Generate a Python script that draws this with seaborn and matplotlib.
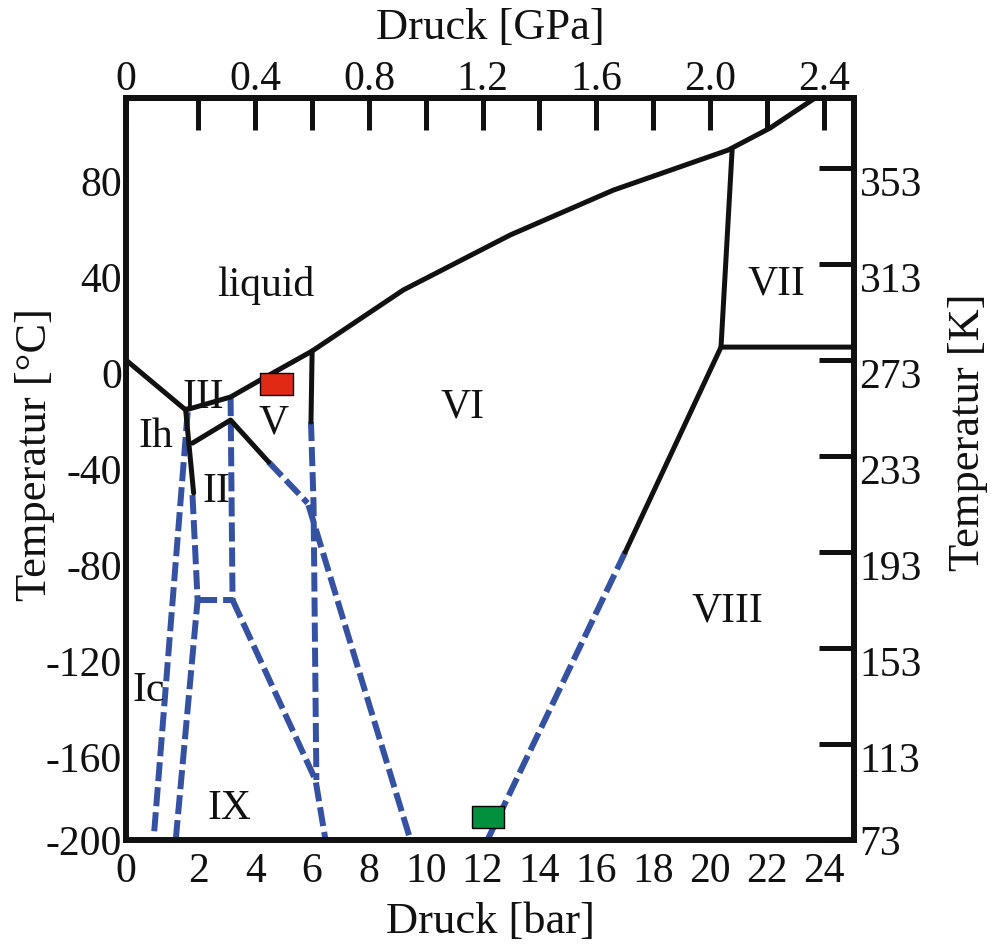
import numpy as np
import pandas as pd
import matplotlib.pyplot as plt
from matplotlib.transforms import ScaledTranslation
import seaborn as sns

sns.set_theme(style="white")
plt.rcParams['font.family'] = ['Liberation Serif', 'DejaVu Serif']
BLACK = '#111111'
BLUE = '#3551a2'
for key in ('text.color', 'axes.labelcolor', 'xtick.color', 'ytick.color', 'axes.edgecolor'):
    plt.rcParams[key] = BLACK

# pressure in kbar, temperature in degC
# left edge of the box is labelled 0 in the original drawing
P0 = -0.55

# solid boundaries
liquidus_p = [P0, 1.55, 3.13, 4.18, 6.0, 9.21, 12.97, 16.6, 20.64, 22.12, 23.7]
liquidus_T = [0, -20.8, -15.4, -8.3, 3.75, 29.2, 52.1, 70.8, 87.5, 96.7, 109.2]
ih_ii_p = [1.55, 1.83]
ih_ii_T = [-20.8, -55.4]
iii_ii_v_p = [1.79, 3.13, 4.47]
iii_ii_v_T = [-34.6, -25.0, -42.5]
v_vi_p = [6.0, 5.96]
v_vi_T = [3.75, -25.8]
vi_vii_p = [20.78, 20.39, 25.07]
vi_vii_T = [87.5, 5.4, 5.4]
vi_viii_p = [20.39, 17.02]
vi_viii_T = [5.4, -80.0]

# dashed (extrapolated) boundaries
ic_p = [1.62, 0.42]
ic_T = [-21.7, -200]
ix_left_p = [1.79, 1.97, 1.2]
ix_left_T = [-56.25, -100, -200]
ix_top_p = [1.97, 3.2]
ix_top_T = [-100, -100]
iii_v_p = [3.13, 3.2]
iii_v_T = [-15.4, -100]
ix_right_p = [3.2, 6.12, 6.47]
ix_right_T = [-100, -175, -200]
v_vi_low_p = [5.96, 6.05, 6.15]
v_vi_low_T = [-25.8, -60, -175]
ii_v_low_p = [4.47, 5.84]
ii_v_low_T = [-42.5, -59.6]
ii_vi_low_p = [5.87, 9.46]
ii_vi_low_T = [-60.4, -200]
vi_viii_low_p = [17.02, 12.17]
vi_viii_low_T = [-80, -200]

# phase names
phase_names = ['liquid', 'VI', 'VII', 'VIII', 'V', 'III', 'Ih', 'II', 'Ic', 'IX']
phase_p = [4.36, 11.29, 22.33, 20.6, 4.64, 2.18, 0.49, 2.64, 0.25, 3.09]
phase_T = [31.0, -19.6, 31.5, -104.5, -26.2, -15.8, -32.1, -55.0, -137.9, -187.0]

# the two marked states
mark_p = [4.75, 12.18]
mark_T = [-10.0, -190.4]
mark_kind = ['red', 'green']

solid = [(liquidus_p, liquidus_T), (ih_ii_p, ih_ii_T), (iii_ii_v_p, iii_ii_v_T),
         (v_vi_p, v_vi_T), (vi_vii_p, vi_vii_T), (vi_viii_p, vi_viii_T)]
dashed = [(ic_p, ic_T), (ix_left_p, ix_left_T), (ix_top_p, ix_top_T), (iii_v_p, iii_v_T),
          (ix_right_p, ix_right_T), (v_vi_low_p, v_vi_low_T), (ii_v_low_p, ii_v_low_T),
          (ii_vi_low_p, ii_vi_low_T), (vi_viii_low_p, vi_viii_low_T)]


def to_frame(segs):
    rows = []
    for k, (ps, ts) in enumerate(segs):
        for p, t in zip(ps, ts):
            rows.append((k, p, t))
    return pd.DataFrame(rows, columns=['seg', 'p', 'T'])


solid_df = to_frame(solid)
dashed_df = to_frame(dashed)

fig = plt.figure(figsize=(9.91, 9.51), dpi=100)
ax = fig.add_axes([126 / 991, 1 - 840 / 951, (854 - 126) / 991, (840 - 98) / 951])

sns.lineplot(data=dashed_df, x='p', y='T', units='seg', estimator=None, sort=False,
             color=BLUE, linewidth=4.3, linestyle=(0, (3.2, 1.0)), ax=ax, legend=False)
sns.lineplot(data=solid_df, x='p', y='T', units='seg', estimator=None, sort=False,
             color=BLACK, linewidth=3.6, ax=ax, legend=False)

rect = [(-1.45, -1), (1.45, -1), (1.45, 1), (-1.45, 1), (-1.45, -1)]
sns.scatterplot(x=mark_p, y=mark_T, hue=mark_kind,
                palette={'red': '#e02a16', 'green': '#00903e'},
                marker=rect, s=540, edgecolor='black', linewidth=1.0,
                legend=False, zorder=5, ax=ax)

for name, p, t in zip(phase_names, phase_p, phase_T):
    ax.text(p, t, name, ha='center', va='center', fontsize=30, color=BLACK)

ax.set_xlim(P0, 25.07)
ax.set_ylim(-200, 109.2)

xt = list(range(2, 25, 2))
ax.set_xticks([P0] + xt, labels=['0'] + [str(v) for v in xt])
yt = list(range(-200, 81, 40))
ax.set_yticks(yt, labels=[str(v) for v in yt])

for sp in ax.spines.values():
    sp.set_linewidth(4.3)
    sp.set_color(BLACK)

ax.tick_params(axis='x', direction='in', length=16.5, width=3.6, color=BLACK,
               labelsize=30, pad=9)
ax.tick_params(axis='y', direction='in', length=21.5, width=3.6, color=BLACK,
               labelsize=30, pad=3)

ax.set_xlabel('Druck [bar]', fontsize=32, va='center')
ax.xaxis.set_label_coords(0.5, (840 - 922) / 742)
ax.set_ylabel('Temperatur [°C]', fontsize=32, va='center')
ax.yaxis.set_label_coords((35 - 126) / 728, (840 - 455) / 742)

# top axis in GPa
top = ax.secondary_xaxis('top', functions=(lambda x: x / 10, lambda x: x * 10))
gpa = [v / 10 for v in xt]
gpa_lab = ['' if v % 4 else f'{v / 10:.1f}' for v in xt]
top.set_xticks([P0 / 10] + gpa, labels=['0'] + gpa_lab)
top.tick_params(direction='in', length=23, width=3.6, color=BLACK, labelsize=30, pad=-1)
top.spines['top'].set_linewidth(4.3)
top.set_xlabel('Druck [GPa]', fontsize=32, va='center')
top.xaxis.set_label_coords(0.5, (840 - 28) / 742, transform=ax.transAxes)

# right axis in Kelvin
right = ax.secondary_yaxis('right', functions=(lambda t: t + 273, lambda k: k - 273))
kt = [v + 273 for v in yt]
right.set_yticks(kt, labels=[str(v) for v in kt])
right.tick_params(direction='in', length=25, width=3.6, color=BLACK, labelsize=30, pad=4)
right.spines['right'].set_linewidth(4.3)
right.set_ylabel('Temperatur [K]', fontsize=32, va='center')
right.yaxis.set_label_coords((968 - 126) / 728, (840 - 432) / 742, transform=ax.transAxes)

# tick numbers sit just below their tick marks in the original
shift = ScaledTranslation(0, -0.13, fig.dpi_scale_trans)
for axis in (ax.yaxis, right.yaxis):
    for tk in axis.get_major_ticks()[1:]:
        for lab in (tk.label1, tk.label2):
            lab.set_transform(lab.get_transform() + shift)

fig.savefig('out.png', dpi=100)
